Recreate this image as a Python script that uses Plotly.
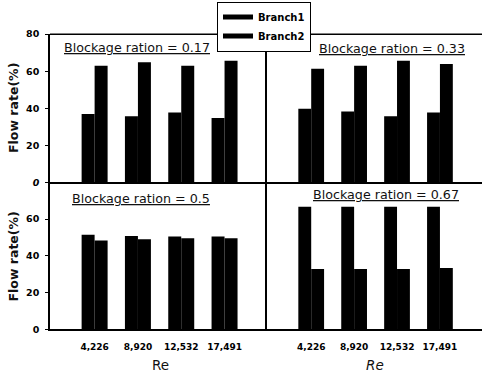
import plotly.graph_objects as go

# Reynolds numbers (categories) and the four blockage ratios
re_labels = ["4,226", "8,920", "12,532", "17,491"]
ratios = ["0.17", "0.33", "0.5", "0.67"]

# Flow rate split (%) for each blockage ratio
branch1_017 = [36.9, 35.7, 37.8, 34.8]
branch2_017 = [63.0, 64.8, 63.0, 65.6]
branch1_033 = [39.7, 38.3, 35.7, 37.8]
branch2_033 = [61.3, 63.0, 65.6, 63.9]
branch1_050 = [51.5, 50.8, 50.5, 50.5]
branch2_050 = [48.4, 49.1, 49.6, 49.6]
branch1_067 = [66.8, 66.8, 66.8, 66.8]
branch2_067 = [32.9, 32.9, 32.9, 33.4]

top_ticks = [0, 20, 40, 60, 80]
top_ticktext = ["<i>0</i>", "20", "40", "60", "80"]
bottom_ticks = [0, 20, 40, 60]
bottom_ticktext = ["0", "20", "40", "60"]

W, H = 482, 380
FONT = "DejaVu Sans"

panels = [
    (branch1_017, branch2_017, "x", "y"),
    (branch1_033, branch2_033, "x2", "y2"),
    (branch1_050, branch2_050, "x3", "y3"),
    (branch1_067, branch2_067, "x4", "y4"),
]

fig = go.Figure()
for b1, b2, xa, ya in panels:
    fig.add_trace(go.Bar(x=re_labels, y=b1, xaxis=xa, yaxis=ya, name="Branch1",
                         marker=dict(color="black", line=dict(width=0)), showlegend=False))
    fig.add_trace(go.Bar(x=re_labels, y=b2, xaxis=xa, yaxis=ya, name="Branch2",
                         marker=dict(color="black", line=dict(width=0)), showlegend=False))

# legend entries drawn as thick line samples
for nm in ["Branch1", "Branch2"]:
    fig.add_trace(go.Scatter(x=[None], y=[None], mode="lines", name=nm,
                             line=dict(color="black", width=5)))

left_dom = [50 / W, 267 / W]
right_dom = [267 / W, 1.0]
top_dom = [(H - 181.7) / H, (H - 29) / H]
bot_dom = [(H - 333) / H, (H - 181.7) / H]

xcommon = dict(type="category", range=[-1.03, 3.98], showline=True, linecolor="black",
               linewidth=1.5, showgrid=False, zeroline=False, ticks="",
               ticklabelstandoff=8,
               tickfont=dict(family=FONT, size=9, color="black", weight="bold"))
ycommon = dict(range=[0, 80], showline=True, linecolor="black", linewidth=1.5,
               showgrid=False, zeroline=False,
               tickfont=dict(family=FONT, size=9.5, color="black", weight="bold"))

fig.update_layout(
    width=W, height=H,
    margin=dict(l=0, r=0, t=0, b=0),
    paper_bgcolor="white", plot_bgcolor="white",
    barmode="group", bargap=0.40, bargroupgap=0,
    xaxis=dict(domain=left_dom, anchor="y", showticklabels=False, **xcommon),
    xaxis2=dict(domain=right_dom, anchor="y2", showticklabels=False, **xcommon),
    xaxis3=dict(domain=left_dom, anchor="y3", showticklabels=True, **xcommon),
    xaxis4=dict(domain=right_dom, anchor="y4", showticklabels=True, **xcommon),
    yaxis=dict(domain=top_dom, anchor="x", tickvals=top_ticks, ticktext=top_ticktext,
               ticks="outside", ticklen=3, tickcolor="black", ticklabelstandoff=4, **ycommon),
    yaxis2=dict(domain=top_dom, anchor="x2", showticklabels=False, ticks="", **ycommon),
    yaxis3=dict(domain=bot_dom, anchor="x3", tickvals=bottom_ticks, ticktext=bottom_ticktext,
                ticks="outside", ticklen=3, tickcolor="black", ticklabelstandoff=4, **ycommon),
    yaxis4=dict(domain=bot_dom, anchor="x4", showticklabels=False, ticks="", **ycommon),
    legend=dict(x=217 / W, y=1.012, xanchor="left", yanchor="top",
                bgcolor="white", bordercolor="black", borderwidth=1,
                font=dict(family=FONT, size=10, color="black", weight="bold"),
                tracegroupgap=0, itemwidth=30),
)

# top border of the upper row
fig.add_shape(type="line", xref="paper", yref="paper", x0=50 / W, x1=1.0,
              y0=top_dom[1], y1=top_dom[1], line=dict(color="black", width=1.5), layer="below")


def label(px, py, text, size, weight="normal", angle=0):
    fig.add_annotation(x=px / W, y=1 - py / H, xref="paper", yref="paper",
                       xanchor="center", yanchor="middle", text=text, showarrow=False,
                       textangle=angle,
                       font=dict(family=FONT, size=size, color="#111", weight=weight))


# panel titles
title_pos = [(137, 43), (392, 44), (141, 198), (386, 194)]
for r, (px, py) in zip(ratios, title_pos):
    label(px, py, f"<u>Blockage ration = {r}</u>", 12.7)

# axis titles
for py in [105, 258]:
    label(14, py, "Flow rate(%)", 12.5, weight="bold", angle=-90)
label(160, 370, "Re", 13.5)
label(375, 370, "<i>Re</i>", 13.5)

fig.write_html("out.html")
